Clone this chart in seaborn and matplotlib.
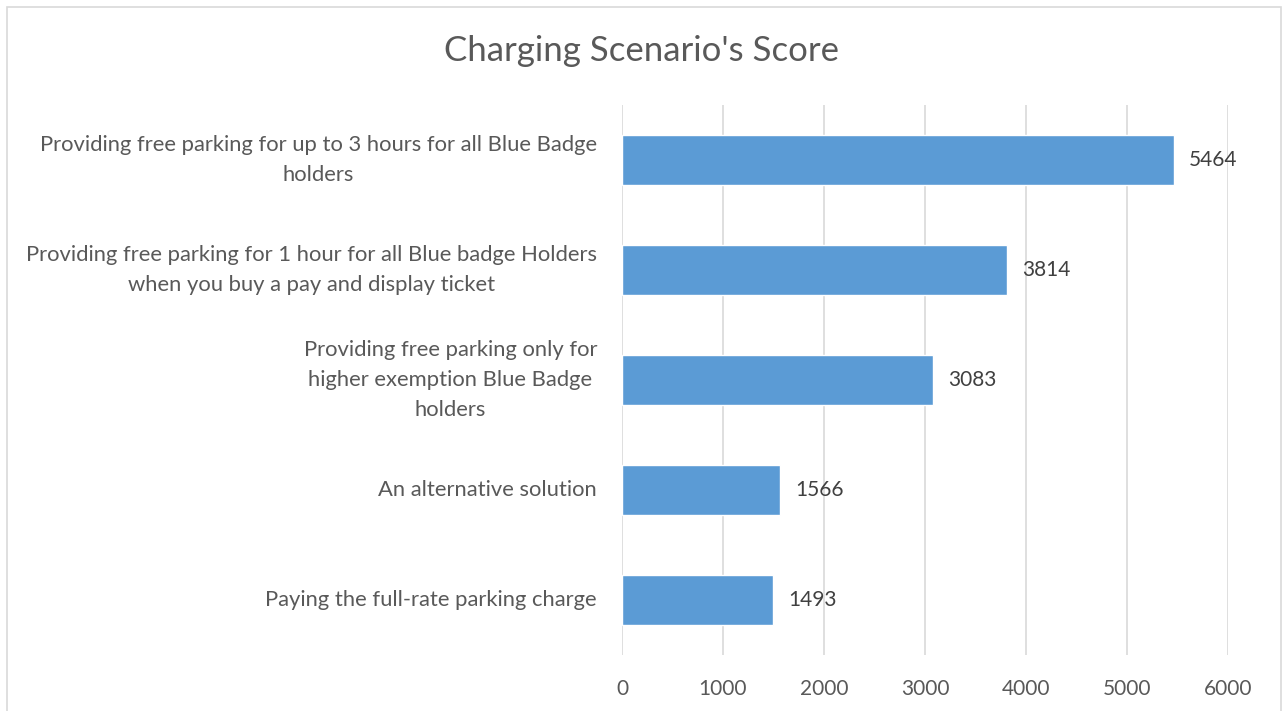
import seaborn as sns
import matplotlib.pyplot as plt
from matplotlib.patches import Rectangle

# Chart data
scenarios = [
    "Providing free parking for up to 3 hours for all Blue Badge\nholders",
    "Providing free parking for 1 hour for all Blue badge Holders\nwhen you buy a pay and display ticket",
    "Providing free parking only for\nhigher exemption Blue Badge\nholders",
    "An alternative solution",
    "Paying the full-rate parking charge",
]
scores = [5464, 3814, 3083, 1566, 1493]
x_ticks = [0, 1000, 2000, 3000, 4000, 5000, 6000]

sns.set_style("white")
plt.rcParams['font.family'] = ['Lato', 'DejaVu Sans']
text_col = "#595959"
grid_col = "#D9D9D9"

fig = plt.figure(figsize=(12.82, 7.11), dpi=100)
ax = fig.add_axes([622 / 1282, 1 - 655 / 711, 606 / 1282, 550 / 711])

sns.barplot(x=scores, y=list(range(len(scenarios))), orient="h",
            color="#5B9BD5", saturation=1, width=0.46, ax=ax)

ax.set_xlim(0, 6000)
ax.set_ylim(len(scenarios) - 0.5, -0.5)
ax.set_xticks(x_ticks)
ax.set_xticklabels([str(t) for t in x_ticks], fontsize=15)
ax.set_yticks(range(len(scenarios)))
ax.set_yticklabels(scenarios, ha="right", va="center", multialignment="center",
                   fontsize=15.8, linespacing=1.6)
ax.tick_params(axis="both", length=0, colors=text_col)
ax.tick_params(axis="y", pad=18)
ax.tick_params(axis="x", pad=17)
ax.xaxis.grid(True, color=grid_col, linewidth=1.2)
ax.set_axisbelow(True)
for s in ax.spines.values():
    s.set_visible(False)

for i, v in enumerate(scores):
    ax.text(v + 150, i, str(v), va="center", ha="left",
            fontsize=15, color="#404040")

fig.text(0.5, 1 - 51 / 711, "Charging Scenario's Score", ha="center",
         va="center", fontsize=25, color=text_col)

# chart area border
fig.patches.append(Rectangle((7 / 1282, -0.01), 1274 / 1282, 1 - 7 / 711 + 0.01,
                             transform=fig.transFigure, fill=False,
                             edgecolor=grid_col, linewidth=1.2))

fig.savefig("out.png", dpi=100)
